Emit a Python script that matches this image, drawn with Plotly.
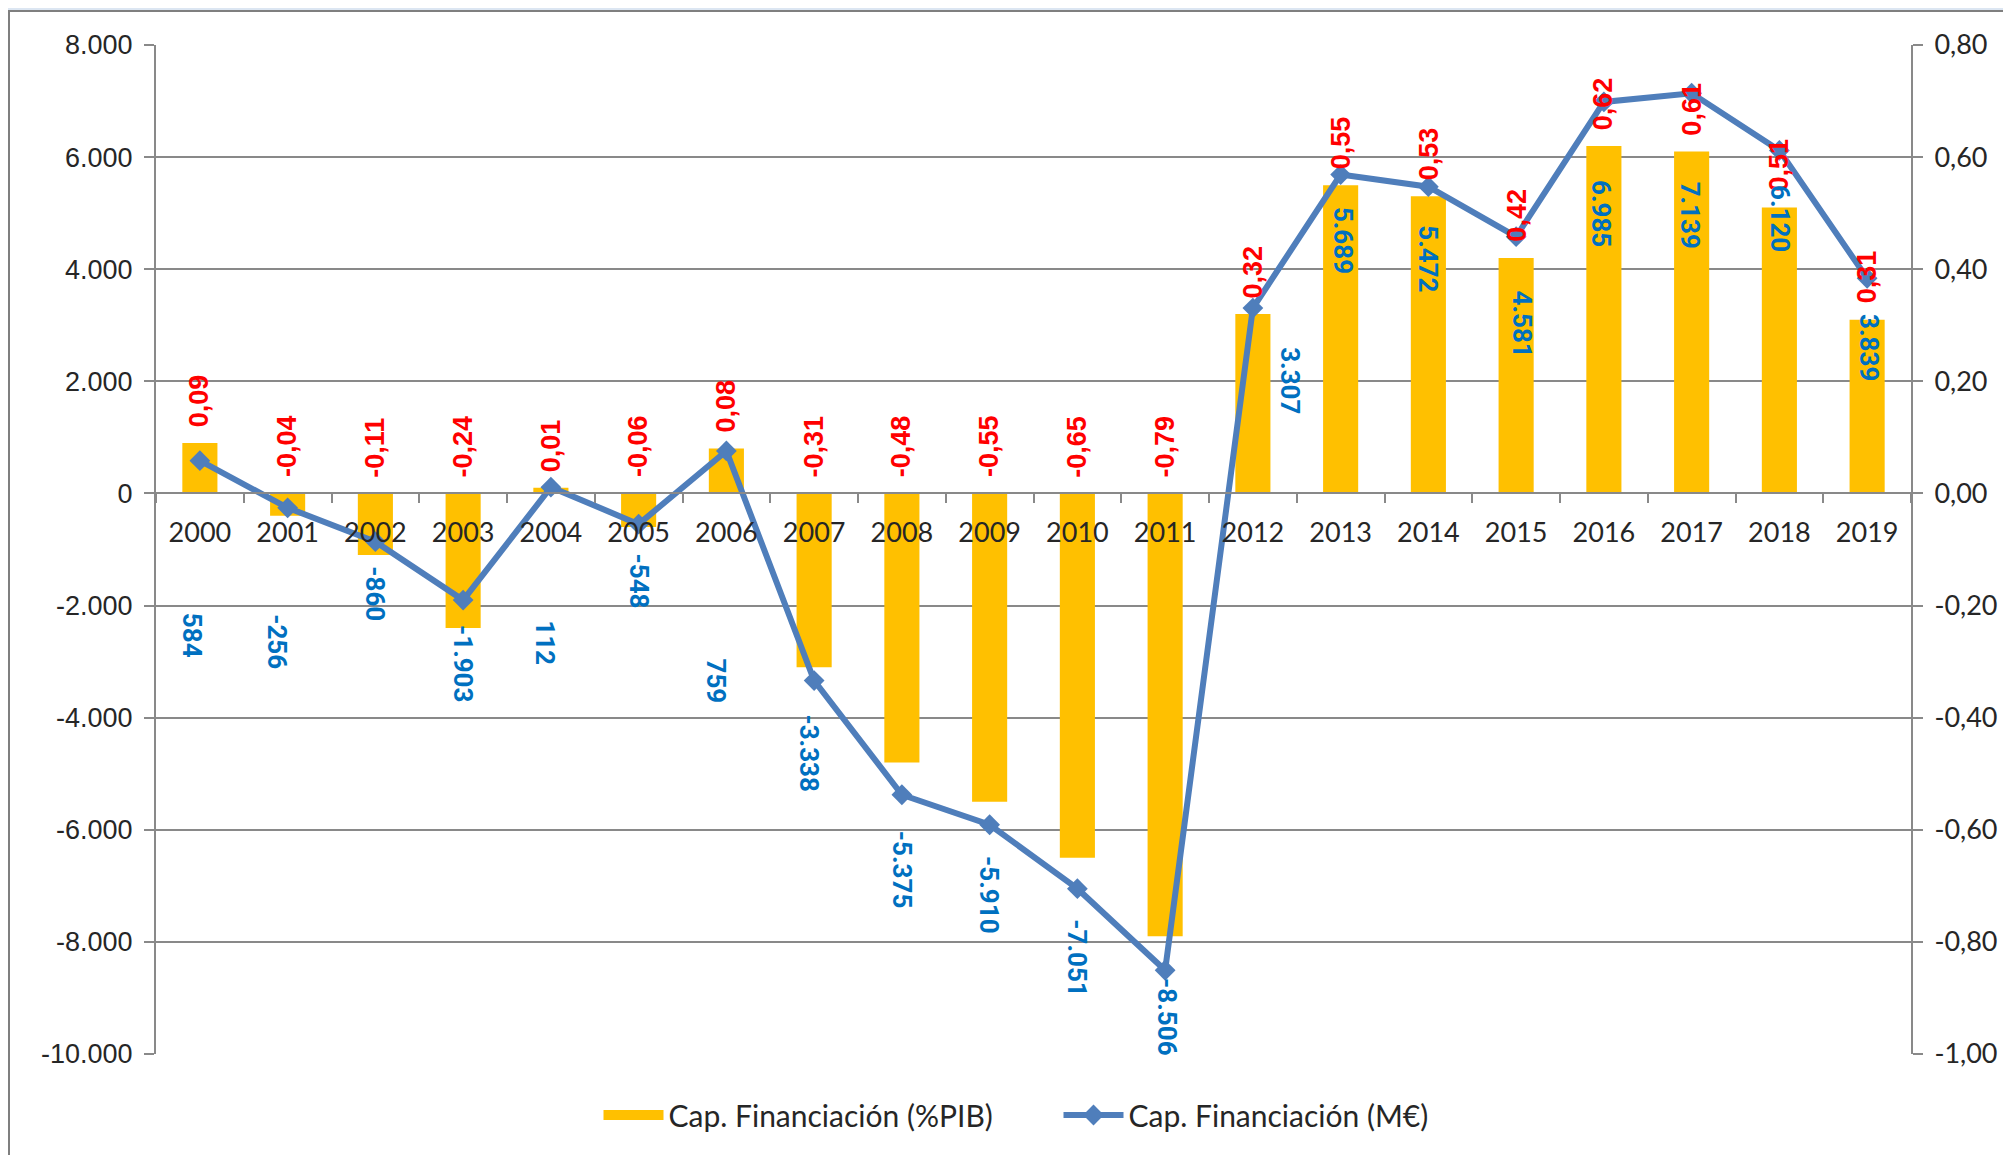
import plotly.graph_objects as go

# ---------------- data ----------------
YEARS = ["2000", "2001", "2002", "2003", "2004", "2005", "2006", "2007", "2008", "2009",
         "2010", "2011", "2012", "2013", "2014", "2015", "2016", "2017", "2018", "2019"]
PCT_PIB = [0.09, -0.04, -0.11, -0.24, 0.01, -0.06, 0.08, -0.31, -0.48, -0.55,
           -0.65, -0.79, 0.32, 0.55, 0.53, 0.42, 0.62, 0.61, 0.51, 0.31]
MEUR = [584, -256, -860, -1903, 112, -548, 759, -3338, -5375, -5910,
        -7051, -8506, 3307, 5689, 5472, 4581, 6985, 7139, 6120, 3839]

LEFT_TICKS = [8000, 6000, 4000, 2000, 0, -2000, -4000, -6000, -8000, -10000]
LEFT_TICK_LABELS = ["8.000", "6.000", "4.000", "2.000", "0", "-2.000", "-4.000",
                    "-6.000", "-8.000", "-10.000"]
RIGHT_TICKS = [0.8, 0.6, 0.4, 0.2, 0.0, -0.2, -0.4, -0.6, -0.8, -1.0]
RIGHT_TICK_LABELS = ["0,80", "0,60", "0,40", "0,20", "0,00", "-0,20", "-0,40",
                     "-0,60", "-0,80", "-1,00"]

SERIES_BAR = "Cap. Financiación (%PIB)"
SERIES_LINE = "Cap. Financiación (M€)"

# label offsets (pixels) for the M€ labels, as placed in the original
BLUE_YSHIFT = [-175, -134, -52, -63, -156, -57, -230, -72, -75, -70,
               -69, -47, -73, -66, -72, -87, -112, -122, -68, -69]
BLUE_XSHIFT = [-8, -10, 0, 0, -6, 0, -10, -5, 0, 0,
               0, 2, 37, 3, 0, 6, -3, -2, 0, 2]


def fmt_pct(v):
    return f"{v:.2f}".replace(".", ",")


def fmt_meur(v):
    return f"{v:,}".replace(",", ".")


# ---------------- figure ----------------
# the page body has an 8px margin, so the figure is 8px smaller
W, H = 2003, 1147
ML, MR, MT, MB = 148, 100, 37, 101
PW, PH = W - ML - MR, H - MT - MB

GRID = "#898989"
TXT = "#262626"
BAR_C = "#FFC000"
LINE_C = "#4F7EBB"

R_RANGE = [-1.0, 0.8]
L_RANGE = [-10000, 8000]
X_RANGE = [-0.5, len(YEARS) - 0.5]

fig = go.Figure()
fig.add_trace(go.Bar(x=YEARS, y=PCT_PIB, xaxis="x", yaxis="y", name=SERIES_BAR,
                     showlegend=False,
                     marker=dict(color=BAR_C, line=dict(width=0)), width=0.4))
# legend proxy for the bar series (wide yellow swatch)
fig.add_trace(go.Scatter(x=[None], y=[None], xaxis="x", yaxis="y", name=SERIES_BAR,
                         mode="lines", line=dict(color=BAR_C, width=20),
                         hoverinfo="skip"))
fig.add_trace(go.Scatter(x=YEARS, y=MEUR, xaxis="x", yaxis="y2", name=SERIES_LINE,
                         mode="lines+markers",
                         line=dict(color=LINE_C, width=6),
                         marker=dict(symbol="diamond", size=16, color=LINE_C)))

annotations = []
for i, v in enumerate(PCT_PIB):
    annotations.append(dict(x=i, y=max(v, 0), xref="x", yref="y", text=fmt_pct(v),
                            showarrow=False, textangle=-90, yanchor="bottom",
                            xanchor="center", yshift=14,
                            font=dict(family="Liberation Sans", size=27,
                                      color="#FF0000", weight="bold")))
for i, (v, dy, dx) in enumerate(zip(MEUR, BLUE_YSHIFT, BLUE_XSHIFT)):
    annotations.append(dict(x=i, y=v, xref="x", yref="y2", text=fmt_meur(v),
                            showarrow=False, textangle=90, yanchor="middle",
                            xanchor="center", yshift=dy, xshift=dx,
                            font=dict(family="Roboto", size=26,
                                      color="#0070C0", weight="bold")))

zero_pos = (0 - R_RANGE[0]) / (R_RANGE[1] - R_RANGE[0])

fig.update_layout(
    width=W, height=H,
    margin=dict(l=ML, r=MR, t=MT, b=MB, pad=0),
    paper_bgcolor="#DCE6F2",
    plot_bgcolor="rgba(0,0,0,0)",
    showlegend=True,
    xaxis=dict(type="category", categoryorder="array", categoryarray=YEARS,
               range=X_RANGE, autorange=False,
               anchor="free", position=zero_pos, tickangle=0,
               showline=True, linecolor=GRID, linewidth=2,
               ticks="outside", tickson="boundaries", ticklen=9, tickwidth=2,
               tickcolor=GRID, showgrid=False, zeroline=False,
               tickfont=dict(family="Lato", size=27, color=TXT),
               ticklabelstandoff=15),
    yaxis=dict(side="right", range=R_RANGE, autorange=False, tickvals=RIGHT_TICKS,
               ticktext=RIGHT_TICK_LABELS, showgrid=True, gridcolor=GRID,
               gridwidth=2, showline=True, linecolor=GRID, linewidth=2,
               ticks="outside", ticklen=10, tickwidth=2, tickcolor=GRID,
               zeroline=False, tickfont=dict(family="Lato", size=27, color=TXT),
               ticklabelstandoff=6),
    yaxis2=dict(overlaying="y", side="left", anchor="x", range=L_RANGE,
                autorange=False, tickvals=LEFT_TICKS,
                ticktext=LEFT_TICK_LABELS, showgrid=False, showline=True,
                linecolor=GRID, linewidth=2, ticks="outside", ticklen=10,
                tickwidth=2, tickcolor=GRID, zeroline=False,
                tickfont=dict(family="Liberation Sans", size=27, color=TXT),
                ticklabelstandoff=6),
    legend=dict(orientation="h", x=0.5 + 25 / PW, xanchor="center",
                y=(-(1107 - (MT + PH)) / PH), yanchor="middle",
                font=dict(family="Lato", size=30, color=TXT),
                bgcolor="rgba(0,0,0,0)", itemwidth=60,
                entrywidth=385, entrywidthmode="pixels"),
    annotations=annotations,
    shapes=[dict(type="rect", xref="paper", yref="paper", layer="below",
                 x0=(1 - ML) / PW, x1=(W + 10 - ML) / PW,
                 y0=-(H + 10 - (MT + PH)) / PH, y1=(MT + PH - 3) / PH,
                 fillcolor="white", line=dict(color="#7F7F7F", width=2))],
)

fig.write_html("out.html")
